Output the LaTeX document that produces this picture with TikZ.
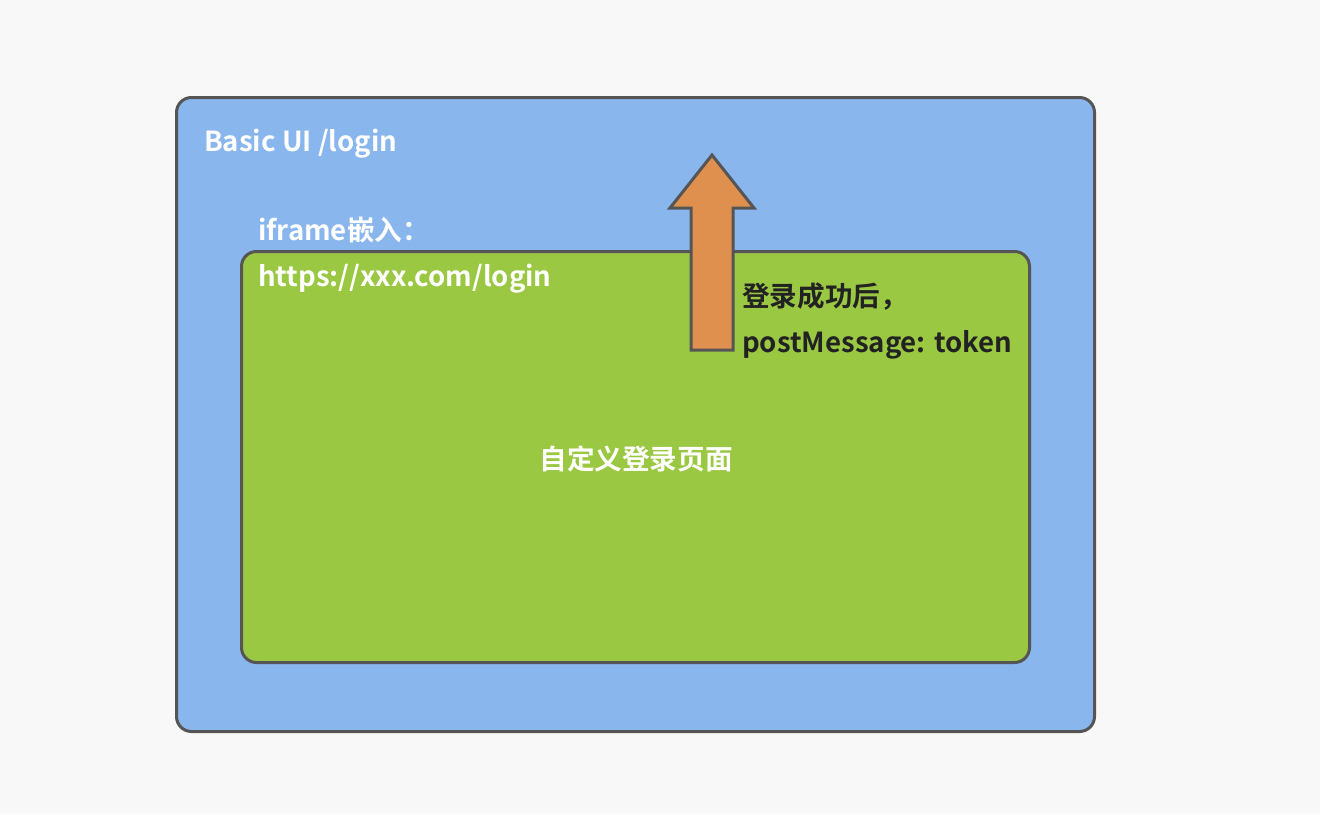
\documentclass[tikz,border=0pt]{standalone}
\usepackage{fontspec}
\setmainfont{Noto Sans CJK SC Bold}
\definecolor{bgc}{HTML}{F8F8F8}
\definecolor{bluec}{HTML}{8AB6EE}
\definecolor{greenc}{HTML}{9BC843}
\definecolor{orangec}{HTML}{E0904E}
\definecolor{edgec}{HTML}{555555}
\definecolor{darkc}{HTML}{222222}
\begin{document}
\begin{tikzpicture}[x=1pt,y=-1pt,
  lbl/.style={font=\fontsize{27.6}{32}\selectfont, inner sep=0pt, anchor=west},
  frame/.style={draw=edgec, line width=3pt, rounded corners=15pt}]
\fill[bgc] (0,0) rectangle (1320,814);
\useasboundingbox (0,0) rectangle (1320,814);
\node[frame, fill=bluec, minimum width=918pt, minimum height=634pt, anchor=north west, inner sep=0pt] (outer) at (175,96) {};
\node[frame, fill=greenc, minimum width=788pt, minimum height=411pt, anchor=north west, inner sep=0pt] (inner) at (240,250) {};
\draw[draw=edgec, line width=3pt, fill=orangec, line join=miter]
  (691,350) -- (691,208) -- (670,208) -- (712,155) -- (754,208) -- (733,208) -- (733,350) -- cycle;
\node[lbl, text=white] (t1) at (204,144) {Basic UI /login};
\node[lbl, text=white] (t2) at (258,230) {iframe嵌入：};
\node[lbl, text=white] (t3) at (258,279) {https://xxx.com/login};
\node[lbl, text=darkc] (t4) at (742,297) {登录成功后，};
\node[lbl, text=darkc] (t5) at (742,345) {postMessage: token};
\node[lbl, text=white, anchor=center] (t6) at (636,459) {自定义登录页面};
\end{tikzpicture}
\end{document}
